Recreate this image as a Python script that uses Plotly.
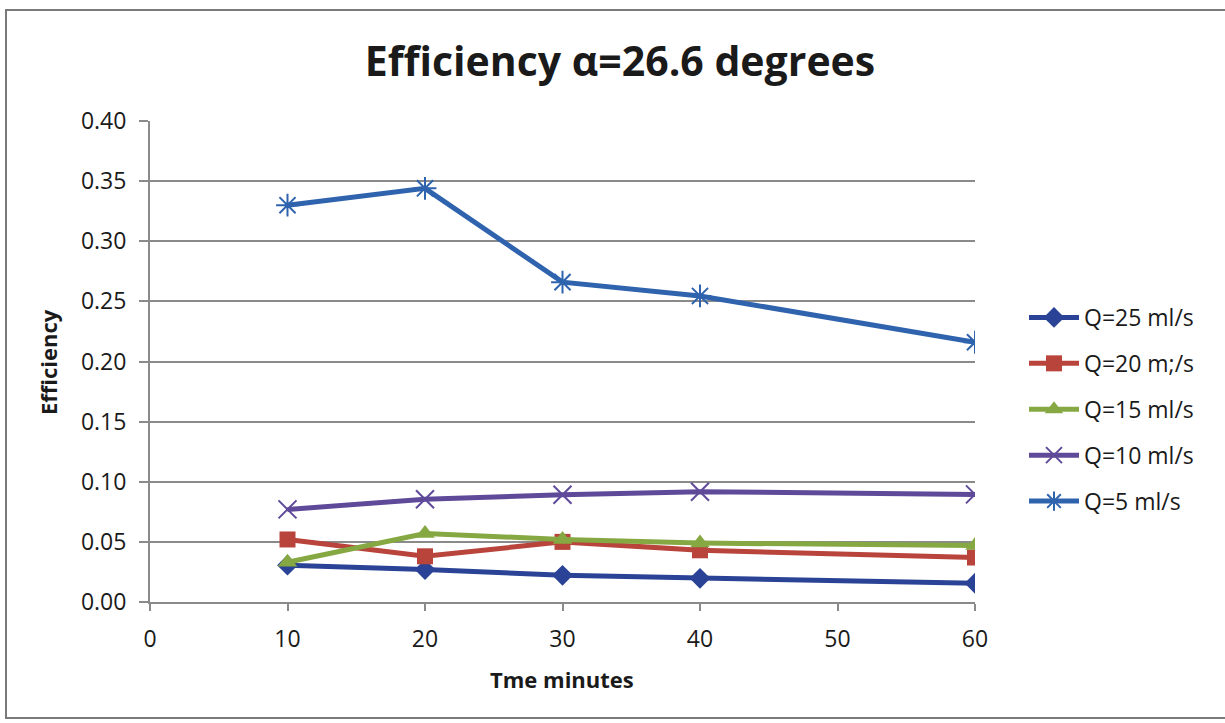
import plotly.graph_objects as go

# Sampling times (minutes)
time_min = [10, 20, 30, 40, 60]

# Efficiency per flow rate
eff_q25 = [0.0306, 0.0270, 0.0222, 0.0197, 0.0156]
eff_q20 = [0.0520, 0.0380, 0.0500, 0.0430, 0.0370]
eff_q15 = [0.0330, 0.0570, 0.0520, 0.0490, 0.0470]
eff_q10 = [0.0770, 0.0855, 0.0892, 0.0917, 0.0895]
eff_q5 = [0.3300, 0.3440, 0.2660, 0.2545, 0.2160]

series_names = ["Q=25 ml/s", "Q=20 m;/s", "Q=15 ml/s", "Q=10 ml/s", "Q=5 ml/s"]
series_values = [eff_q25, eff_q20, eff_q15, eff_q10, eff_q5]

x_ticks = [0, 10, 20, 30, 40, 50, 60]
y_ticks = [0.00, 0.05, 0.10, 0.15, 0.20, 0.25, 0.30, 0.35, 0.40]

colors = ["#2B4396", "#B8443B", "#86A843", "#5F4A99", "#2F63AE"]
symbols = ["diamond", "square", "triangle-up", "x-thin-open", "asterisk-open"]
msizes = [16, 16, 17, 18, 19]

FONT = "'Open Sans', Lato, sans-serif"
GRID = "#8a8a8a"
INK = "#1a1a1a"

fig = go.Figure()
for name, vals, col, sym, ms in zip(series_names, series_values, colors, symbols, msizes):
    open_sym = sym.endswith("-open")
    fig.add_trace(go.Scatter(
        x=time_min, y=vals, name=name, mode="lines+markers",
        legendgroup=name,
        line=dict(color=col, width=5),
        marker=dict(symbol=sym, size=ms, color=col,
                    line=dict(color=col, width=2 if open_sym else 0)),
    ))

W, H = 1225, 723
L, R, T, B = 150, 250, 121, 121
pw, ph = W - L - R, H - T - B

def px_x(px):
    return (px - L) / pw

def px_y(py):
    return (H - B - py) / ph

fig.update_layout(
    width=W, height=H,
    margin=dict(l=L, r=R, t=T, b=B),
    paper_bgcolor="white", plot_bgcolor="white",
    font=dict(family=FONT, color=INK, size=23),
    title=dict(text="<b>Efficiency α=26.6 degrees</b>", xref="paper", x=px_x(620),
               xanchor="center", yref="container", y=1 - 62 / H, yanchor="middle",
               font=dict(family=FONT, size=41, color=INK)),
    showlegend=True,
    legend=dict(x=px_x(1024), y=px_y(296), xanchor="left", yanchor="top",
                xref="paper", yref="paper", tracegroupgap=13, itemwidth=50,
                font=dict(family=FONT, size=23, color=INK),
                bgcolor="rgba(0,0,0,0)"),
    xaxis=dict(range=[0, 60], tickvals=x_ticks, ticktext=[str(v) for v in x_ticks],
               showgrid=False, zeroline=False, showline=True, linecolor=GRID, linewidth=2,
               ticks="outside", ticklen=7, tickcolor=GRID, tickwidth=2,
               ticklabelstandoff=8,
               tickfont=dict(size=23), fixedrange=True),
    yaxis=dict(range=[0, 0.40], tickvals=y_ticks, ticktext=[f"{v:.2f}" for v in y_ticks],
               showgrid=True, gridcolor=GRID, gridwidth=1.6, zeroline=False,
               showline=True, linecolor=GRID, linewidth=2,
               ticks="outside", ticklen=9, tickcolor=GRID, tickwidth=2,
               ticklabelstandoff=8,
               tickfont=dict(size=23), fixedrange=True),
    annotations=[
        dict(text="<b>Efficiency</b>", xref="paper", yref="paper", x=px_x(48), y=px_y(362),
             xanchor="center", yanchor="middle",
             textangle=-90, showarrow=False, font=dict(family=FONT, size=22, color=INK)),
        dict(text="<b>Tme minutes</b>", xref="paper", yref="paper", x=px_x(562), y=px_y(679),
             xanchor="center", yanchor="middle",
             showarrow=False, font=dict(family=FONT, size=22, color=INK)),
    ],
    shapes=[
        dict(type="rect", xref="paper", yref="paper",
             x0=px_x(6), x1=px_x(1240), y0=px_y(718), y1=px_y(10),
             line=dict(color="#7a7a7a", width=2), fillcolor="rgba(0,0,0,0)", layer="below"),
    ],
)

fig.write_html("out.html")
